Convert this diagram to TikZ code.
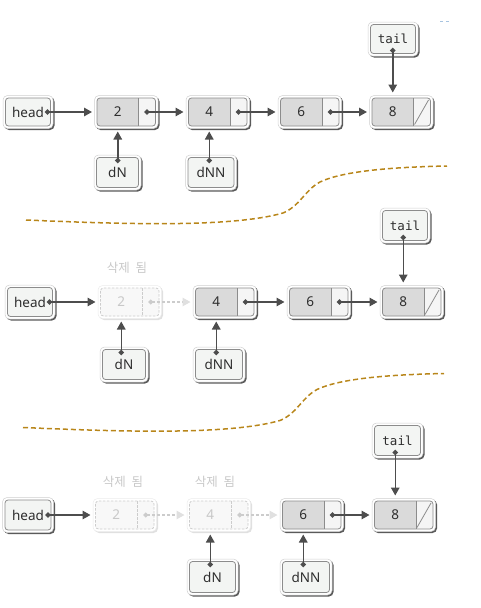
\documentclass[tikz,border=0pt]{standalone}
\usepackage{fontspec}
\setmainfont{Noto Sans}
\setmonofont{DejaVu Sans Mono}
\newfontfamily\krfont{Noto Sans CJK KR}
\usetikzlibrary{arrows.meta,backgrounds,calc}
\definecolor{arrowc}{HTML}{4D4D4D}
\definecolor{borderc}{HTML}{8C8C8C}
\definecolor{datac}{HTML}{DADADA}
\definecolor{ptrc}{HTML}{F5F5F5}
\definecolor{pboxc}{HTML}{F3F5F3}
\definecolor{ringc}{HTML}{CFCFCF}
\definecolor{shadc}{HTML}{5A5A5A}
\definecolor{txtc}{HTML}{2E2E2E}
\definecolor{delc}{HTML}{CCCCCC}
\definecolor{deltxt}{HTML}{C8C8C8}
\definecolor{delfill}{HTML}{F8F8F8}
\definecolor{curvec}{HTML}{B8861A}
\definecolor{bluedash}{HTML}{A8C4E0}
\definecolor{deltip}{HTML}{E0E0E0}
\tikzset{
  ndata/.style={minimum width=41.5pt, minimum height=28pt, inner sep=0pt, outer sep=0pt, font=\fontsize{13.5}{13.5}\selectfont, text=txtc},
  nptr/.style={minimum width=17pt, minimum height=28pt, inner sep=0pt, outer sep=0pt},
  ddata/.style={ndata, text=deltxt},
  dptr/.style={nptr},
  nshadow/.style={fill=shadc},
  dshadow/.style={fill=black!12},
  nring/.style={fill=white, draw=ringc, line width=0.5pt},
  dring/.style={fill=white, draw=black!8, line width=0.5pt},
  nptrfill/.style={fill=ptrc},
  dptrfill/.style={fill=delfill},
  ndatafill/.style={fill=datac},
  ddatafill/.style={fill=delfill},
  nborder/.style={draw=borderc, line width=0.8pt},
  dborder/.style={draw=delc, line width=0.8pt, dash pattern=on 2.5pt off 1.5pt},
  pbox/.style={minimum height=29pt, inner sep=0pt, outer sep=0pt, rounded corners=3pt, fill=pboxc, draw=borderc, line width=0.8pt, font=\fontsize{13.5}{13.5}\selectfont, text=txtc},
  link/.style={draw=arrowc, line width=1.5pt, {Circle[length=5pt]}-{Triangle[length=8pt,width=8.5pt]}},
  dlink/.style={draw=delc, line width=1.3pt, dash pattern=on 3pt off 2pt, {Circle[length=4.5pt,fill=delc,color=delc]}-{Triangle[length=8pt,width=8.5pt,fill=deltip,color=deltip]}},
  curve/.style={draw=curvec, line width=1.5pt, dash pattern=on 5pt off 3pt},
  dellabel/.style={font=\krfont\fontsize{12.5}{12.5}\selectfont, text=deltxt, inner sep=0pt},
  nullline/.style={draw=borderc, line width=0.8pt}
}
% ring + shadow behind a box spanning nodes #1 (nw) .. #2 (se)
\newcommand\ringbox[4]{%
  \begin{scope}[on background layer]
    \path[#3, rounded corners=4.5pt] ([shift={(-1,-1)}]#1.north west) rectangle ([shift={(4,4)}]#2.south east);
    \path[#4, rounded corners=4.5pt] ([shift={(-2.5,-2.5)}]#1.north west) rectangle ([shift={(2.5,2.5)}]#2.south east);
  \end{scope}}
% list element: #1 name, #2 x-left, #3 y-center, #4 text, #5 n (normal) / d (deleted)
\newcommand\elem[5]{%
  \node[#5data, anchor=west] (#1) at (#2,#3) {#4};
  \node[#5ptr, anchor=west] (#1p) at (#1.east) {};
  \ringbox{#1}{#1p}{#5shadow}{#5ring}
  \begin{scope}[on background layer]
    \path[#5ptrfill, rounded corners=3pt] (#1.north west) rectangle (#1p.south east);
    \begin{scope}
      \clip (#1.north west) rectangle (#1.south east);
      \path[#5datafill, rounded corners=3pt] (#1.north west) rectangle ([shift={(5,0)}]#1.south east);
    \end{scope}
  \end{scope}
  \path[#5border, rounded corners=3pt] (#1.north west) rectangle (#1p.south east);
  \path[#5border] (#1.north east) -- (#1.south east);
}
% pointer box: #1 name, #2 x, #3 y, #4 width, #5 height, #6 text
\newcommand\ptrbox[6]{%
  \node[pbox, minimum width=#4pt, minimum height=#5pt] (#1) at (#2,#3) {#6};
  \ringbox{#1}{#1}{nshadow}{nring}}
\newcommand\dellab{삭제\hspace{0.45em}됨}
\newcommand\tailtxt{\ttfamily\fontsize{12.5}{12.5}\selectfont tail}
\begin{document}
\begin{tikzpicture}[x=1pt, y=-1pt]
\useasboundingbox (0,0) rectangle (480,608);
\draw[bluedash, line width=0.8pt, dash pattern=on 3pt off 3pt] (440,21) -- (450,21);

% ---------- row 1 ----------
\ptrbox{ha}{28}{112}{45}{28}{head}
\elem{a2}{97}{112}{2}{n}
\elem{a4}{188.5}{112}{4}{n}
\elem{a6}{280.5}{112}{6}{n}
\elem{a8}{372}{112}{8}{n}
\draw[nullline] ([shift={(1,-1.5)}]a8p.south west) -- ([shift={(-2,2)}]a8p.north east);
\ptrbox{ta}{393}{39}{45}{29}{\tailtxt}
\ptrbox{dNa}{117.5}{172.5}{42}{30}{dN}
\ptrbox{dNNa}{211}{172.5}{46}{30}{dNN}
\draw[link] ([shift={(-5.5,0)}]ha.east) -- ([shift={(-5,0)}]a2.west);
\draw[link] ([shift={(-2.5,0)}]a2p.center) -- ([shift={(-5,0)}]a4.west);
\draw[link] ([shift={(-2.5,0)}]a4p.center) -- ([shift={(-5,0)}]a6.west);
\draw[link] ([shift={(-2.5,0)}]a6p.center) -- ([shift={(-5,0)}]a8.west);
\draw[link] ($(ta.south -| a8.center)+(0,-5.5)$) -- ($(a8.north)+(0,-5.5)$);
\draw[link] ($(dNa.north -| a2.center)+(0,5.5)$) -- ($(a2.south)+(0,5.5)$);
\draw[link] ($(dNNa.north -| a4.center)+(0,5.5)$) -- ($(a4.south)+(0,5.5)$);

\draw[curve] (26,220) .. controls (120,224) and (230,228) .. (283,213) .. controls (300,206) and (305,190) .. (320,182) .. controls (345,170) and (400,167) .. (447,166);

% ---------- row 2 ----------
\ptrbox{hb}{30}{302}{45}{29}{head}
\elem{b2}{100.5}{302}{2}{d}
\elem{b4}{195.5}{302}{4}{n}
\elem{b6}{289.5}{302}{6}{n}
\elem{b8}{382.5}{302}{8}{n}
\draw[nullline] ([shift={(1,-1.5)}]b8p.south west) -- ([shift={(-2,2)}]b8p.north east);
\node[dellabel] (delb2) at (127,268) {\dellab};
\ptrbox{tb}{405}{225.5}{45}{30}{\tailtxt}
\ptrbox{dNb}{124}{364.5}{43}{30}{dN}
\ptrbox{dNNb}{219}{364.5}{47}{30}{dNN}
\draw[link] ([shift={(-5.5,0)}]hb.east) -- ([shift={(-5,0)}]b2.west);
\draw[dlink] ([shift={(-2,0)}]b2p.center) -- ([shift={(-5,0)}]b4.west);
\draw[link] ([shift={(-2.5,0)}]b4p.center) -- ([shift={(-5,0)}]b6.west);
\draw[link] ([shift={(-2.5,0)}]b6p.center) -- ([shift={(-5,0)}]b8.west);
\draw[link] ($(tb.south -| b8.center)+(0,-5.5)$) -- ($(b8.north)+(0,-5.5)$);
\draw[link] ($(dNb.north -| b2.center)+(0,5.5)$) -- ($(b2.south)+(0,5.5)$);
\draw[link] ($(dNNb.north -| b4.center)+(0,5.5)$) -- ($(b4.south)+(0,5.5)$);

\begin{scope}[shift={(-3,207.5)}]
\draw[curve] (26,220) .. controls (120,224) and (230,228) .. (283,213) .. controls (300,206) and (305,190) .. (320,182) .. controls (345,170) and (400,167) .. (447,166);
\end{scope}

% ---------- row 3 ----------
\ptrbox{hc}{28}{515}{46}{30}{head}
\elem{c2}{95.5}{515}{2}{d}
\elem{c4}{189.5}{515}{4}{d}
\elem{c6}{282.5}{515}{6}{n}
\elem{c8}{374.5}{515}{8}{n}
\draw[nullline] ([shift={(1,-1.5)}]c8p.south west) -- ([shift={(-2,2)}]c8p.north east);
\node[dellabel] (delc2) at (123,482) {\dellab};
\node[dellabel] (delc4) at (215,482) {\dellab};
\ptrbox{tc}{397.5}{440.5}{46}{30}{\tailtxt}
\ptrbox{dNc}{212.5}{577}{46}{31}{dN}
\ptrbox{dNNc}{306}{577}{47}{31}{dNN}
\draw[link] ([shift={(-5.5,0)}]hc.east) -- ([shift={(-5,0)}]c2.west);
\draw[dlink] ([shift={(-2,0)}]c2p.center) -- ([shift={(-5,0)}]c4.west);
\draw[dlink] ([shift={(-2,0)}]c4p.center) -- ([shift={(-5,0)}]c6.west);
\draw[link] ([shift={(-2.5,0)}]c6p.center) -- ([shift={(-5,0)}]c8.west);
\draw[link] ($(tc.south -| c8.center)+(0,-5.5)$) -- ($(c8.north)+(0,-5.5)$);
\draw[link] ($(dNc.north -| c4.center)+(0,5.5)$) -- ($(c4.south)+(0,5.5)$);
\draw[link] ($(dNNc.north -| c6.center)+(0,5.5)$) -- ($(c6.south)+(0,5.5)$);
\end{tikzpicture}
\end{document}
